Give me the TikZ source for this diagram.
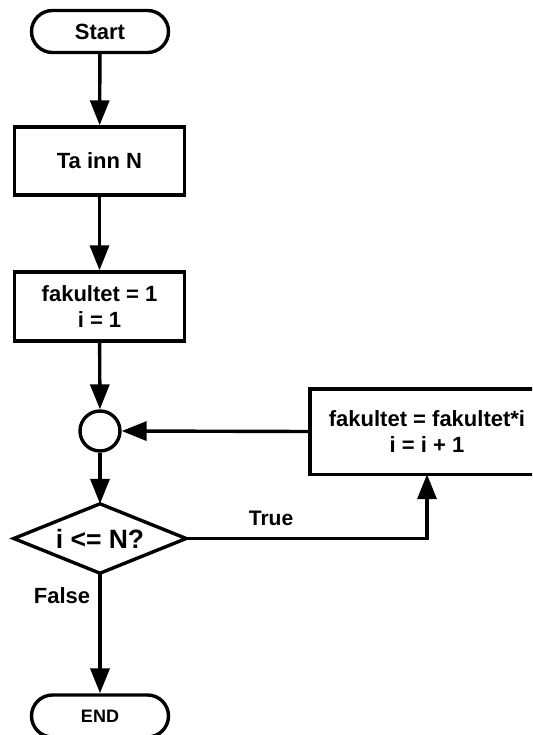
\documentclass[tikz,border=0pt]{standalone}
\usepackage{fontspec}
\setmainfont{Liberation Sans}
\usetikzlibrary{arrows.meta}
\begin{document}
\begin{tikzpicture}[x=1pt,y=-1pt,
  every node/.style={font=\bfseries\fontsize{22}{26}\selectfont},
  terminal/.style={draw,line width=3.4pt,rounded corners=21pt,minimum width=137pt,minimum height=42pt,inner sep=0pt},
  procbox/.style={draw,line width=3.4pt,minimum width=170pt,minimum height=68pt,align=center,inner sep=0pt},
  joint/.style={draw,line width=3.4pt,circle,minimum size=40pt,inner sep=0pt},
  decision/.style={minimum width=172pt,minimum height=69pt,inner sep=0pt},
  outline/.style={line width=3.4pt,line join=miter},
  flow/.style={line width=3.4pt,-{Triangle[length=25pt,width=19pt]}},
  lbl/.style={inner sep=0pt}]
\clip (0,0) rectangle (532,735);
\useasboundingbox (0,0) rectangle (532,735);
\node[terminal] (start) at (100,31.5) {Start};
\node[procbox] (ta) at (99.5,161) {Ta inn N};
\node[procbox,minimum height=69pt] (init) at (99.5,306.5) {fakultet = 1\\i = 1};
\node[joint] (circ) at (100,431) {};
\node[decision,font=\bfseries\fontsize{26.5}{30}\selectfont] (dec) at (100,538.5) {i <= N?};
\draw[outline] (dec.north) -- (dec.east) -- (dec.south) -- (dec.west) -- cycle;
\node[procbox,draw=none,minimum width=231pt,minimum height=82pt] (upd) at (427,431.5) {fakultet = fakultet*i\\i = i + 1};
\draw[outline] ([xshift=40pt]upd.north east) -- (upd.north west) -- (upd.south west) -- ([xshift=40pt]upd.south east);
\node[terminal,font=\bfseries\fontsize{18}{22}\selectfont] (end) at (100,716) {END};
\draw[flow] (start) -- (ta);
\draw[flow] (ta) -- (init);
\draw[flow] (init) -- (circ);
\draw[flow] (circ) -- (dec.north);
\draw[flow] (dec.south) -- (end);
\draw[flow] (upd.west) -- (circ.east);
\draw[flow] (dec.east) -| (upd.south);
\node[lbl,font=\bfseries\fontsize{21}{24}\selectfont] (truelbl) at (271,518) {True};
\node[lbl] (falselbl) at (62,596) {False};
\end{tikzpicture}
\end{document}
